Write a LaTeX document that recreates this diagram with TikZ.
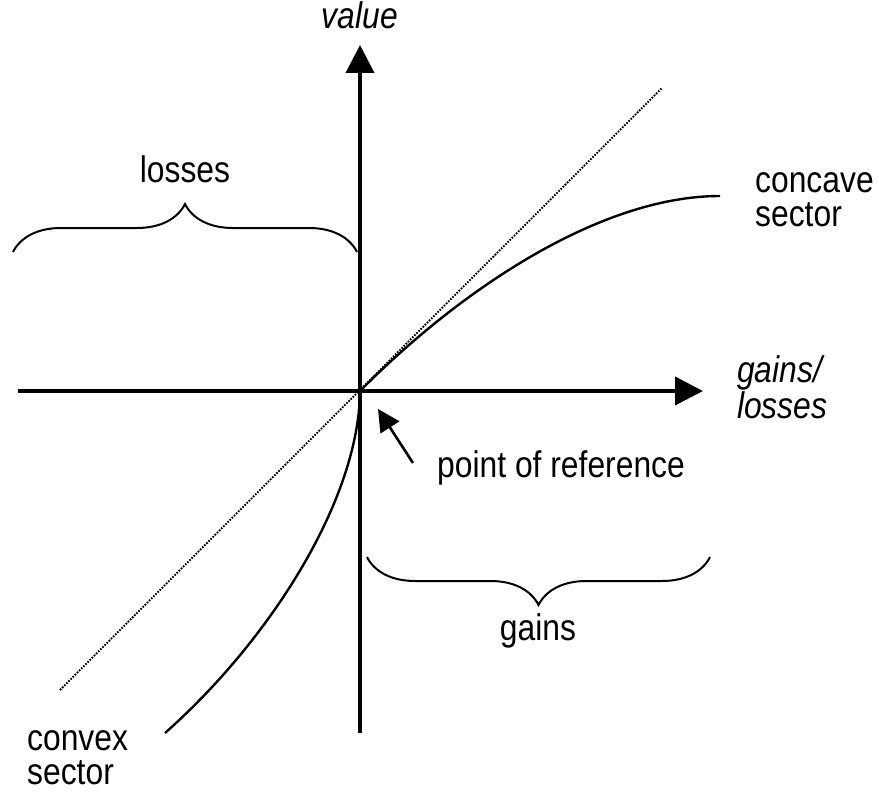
\documentclass[tikz,border=0pt]{standalone}
\usepackage{fontspec}
\setmainfont[FakeStretch=0.86]{Liberation Sans}
\usepackage{tikz}
\usetikzlibrary{arrows.meta}
\usetikzlibrary{decorations.pathreplacing}
\usetikzlibrary{calc}

\begin{document}
\begin{tikzpicture}[x=1pt, y=-1pt,
	axis/.style={line width=4pt, -{Triangle[length=28pt,width=28pt]}},
	curve/.style={line width=2.4pt},
	brc/.style={line width=2pt, decorate, decoration={brace, amplitude=48pt}},
	lbl/.style={inner sep=0pt, font=\fontsize{37}{34}\selectfont}]
			\useasboundingbox (0,0) rectangle (879,792);

			% Axes
			\coordinate (o) at (360,391);
			\coordinate (xs) at (18,391);
			\coordinate (xe) at (703,391);
			\coordinate (ys) at (360,733);
			\coordinate (ye) at (360,45);
			\draw[axis] (xs) -- (xe);
			\draw[axis] (ys) -- (ye);

			% Diagonal of reference
			\coordinate (d1) at (60,690);
			\coordinate (d2) at (662,88);
			\draw[line width=1.8pt, dash pattern=on 1.6pt off 1.4pt] (d1) -- (d2);

			% Value function
			\coordinate (cc) at (720,196);
			\coordinate (cv) at (165,733);
			\draw[curve] (o) .. controls (460,290) and (600,196) .. (cc);
			\draw[curve] (o) .. controls (359,500) and (270,640) .. (cv);

			% Braces
			\coordinate (l1) at (13,252);
			\coordinate (l2) at (357,252);
			\coordinate (g1) at (367,557);
			\coordinate (g2) at (710,557);
			\draw[brc] (l1) -- (l2);
			\draw[brc, decoration={mirror}] (g1) -- (g2);

			% Labels (base of a two-line label is its last line)
			\node[lbl, anchor=base] (val) at (360,29) {\itshape value};
			\node[lbl, anchor=base] (los) at (185,182) {losses};
			\node[lbl, anchor=base] (gai) at (538,640) {gains};
			\node[lbl, anchor=base west, align=left] (cav) at (755,226) {concave\\sector};
			\node[lbl, anchor=base west, align=left] (cvx) at (27,784) {convex\\sector};
			\node[lbl, anchor=base west, align=left] (axl) at (737,418) {\itshape gains/\\\itshape losses};
			\node[lbl, anchor=base west] (ref) at (437,477) {point of reference};

			% Pointer to the origin
			\coordinate (rt) at (378,409);
			\draw[line width=2.6pt, -{Triangle[length=22pt,width=22pt]}] (413,463) -- (rt);
\end{tikzpicture}
\end{document}
